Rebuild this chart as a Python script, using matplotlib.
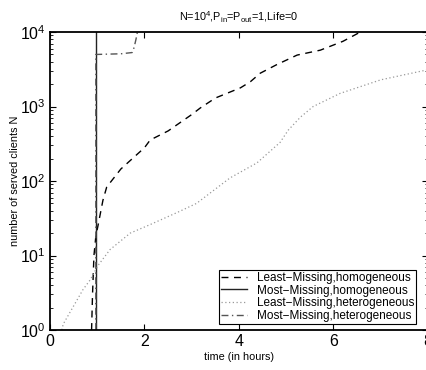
import matplotlib
matplotlib.use('Agg')
import matplotlib.pyplot as plt
from matplotlib.ticker import LogLocator, NullFormatter

plt.rcParams['font.family'] = ['Liberation Sans', 'DejaVu Sans']
plt.rcParams['mathtext.fontset'] = 'custom'
plt.rcParams['mathtext.rm'] = 'Liberation Sans'
plt.rcParams['mathtext.it'] = 'Liberation Sans:italic'

# Least-Missing, homogeneous (dashed)
lm_hom_t = [0.88, 0.90, 0.93, 0.97, 1.02, 1.12, 1.2, 1.5, 2.0, 2.12, 2.5, 3.0, 3.18,
            3.5, 4.03, 4.24, 4.45, 4.8, 5.23, 5.72, 6.2, 6.57]
lm_hom_n = [1, 3, 10, 18, 26, 55, 83, 145, 280, 355, 470, 780, 955,
            1300, 1780, 2150, 2800, 3650, 4900, 5700, 7500, 10000]

# Most-Missing, homogeneous (solid)
mm_hom_t = [0.97, 0.97]
mm_hom_n = [1, 10000]

# Least-Missing, heterogeneous (dotted)
lm_het_t = [0.25, 0.28, 0.7, 0.85, 1.02, 1.27, 1.7, 2.12, 2.7, 3.1, 3.81, 4.38,
            4.87, 5.04, 5.3, 5.57, 6.14, 7.0, 7.98]
lm_het_n = [1, 1.2, 3.5, 4.7, 7.4, 12, 20, 26, 38, 50, 110, 175,
            330, 480, 720, 1000, 1500, 2280, 3100]

# Most-Missing, heterogeneous (dash-dot)
mm_het_t = [0.97, 0.97, 1.0, 1.5, 1.74, 1.78, 1.82, 1.85]
mm_het_n = [1, 5000, 5000, 5100, 5300, 6200, 8000, 10000]

fig = plt.figure(figsize=(4.27, 3.70), dpi=100)
ax = fig.add_axes([50 / 427, 40 / 370, 378 / 427, 298 / 370])

ax.plot(lm_hom_t, lm_hom_n, color='black', ls=(0, (5, 4)), lw=1.0,
        label='Least\u2212Missing,homogeneous')
ax.plot(mm_hom_t, mm_hom_n, color='#222222', ls='-', lw=1.0,
        label='Most\u2212Missing,homogeneous')
ax.plot(lm_het_t, lm_het_n, color='#999999', ls=(0, (1, 2)), lw=0.9,
        label='Least\u2212Missing,heterogeneous')
ax.plot(mm_het_t, mm_het_n, color='#555555', ls=(0, (5, 2.5, 1, 2.5)), lw=1.0,
        label='Most\u2212Missing,heterogeneous')

ax.set_yscale('log')
ax.set_xlim(0, 8)
ax.set_ylim(1, 10000)
ax.set_xticks([0, 2, 4, 6, 8])
ax.yaxis.set_minor_locator(LogLocator(base=10, subs=range(2, 10)))
ax.yaxis.set_minor_formatter(NullFormatter())
ax.tick_params(which='both', direction='in', top=True, right=True)
ax.tick_params(which='major', length=4, labelsize=11.5, pad=3)
ax.tick_params(which='minor', length=2)
for s in ax.spines.values():
    s.set_linewidth(1.3)

ax.set_xlabel('time (in hours)', fontsize=7.8, labelpad=2)
ax.set_ylabel('number of served clients N', fontsize=7.8, labelpad=0)
ax.set_title(r'N=10$^4$,P$_{\mathrm{in}}$=P$_{\mathrm{out}}$=1,Life=0', fontsize=7.8, pad=8)

leg = ax.legend(loc='lower right', fontsize=8.5, frameon=True, fancybox=False,
                edgecolor='black', framealpha=1, handlelength=2.2,
                labelspacing=0.05, borderpad=0.2, borderaxespad=0.5,
                handletextpad=0.8, bbox_to_anchor=(0.985, 0.0))
leg.get_frame().set_linewidth(0.8)

fig.savefig('out.png', dpi=100)
